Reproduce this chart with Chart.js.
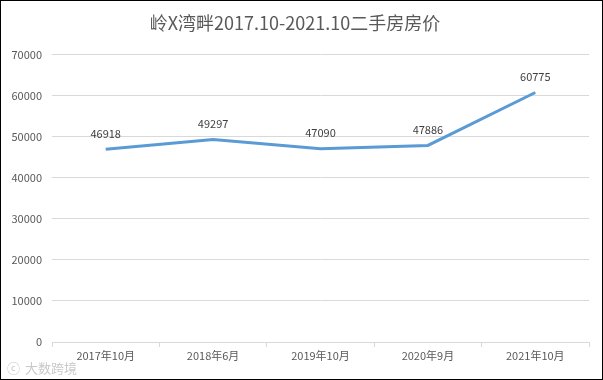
<!DOCTYPE html>
<html>
<head>
<meta charset="utf-8">
<script src="https://cdn.jsdelivr.net/npm/chart.js@4/dist/chart.umd.min.js"></script>
<style>
  html, body { margin: 0; padding: 0; background: #fff; }
  #wrap { width: 601px; height: 378px; border: 1px solid #000; position: relative; }
</style>
</head>
<body>
<div id="wrap"><canvas id="priceChart" width="601" height="378"></canvas></div>
<script>
// Chart data
const months = ['2017年10月', '2018年6月', '2019年10月', '2020年9月', '2021年10月']
const prices = [46918, 49297, 47090, 47886, 60775]
const yTicks = [0, 10000, 20000, 30000, 40000, 50000, 60000, 70000]
const chartTitle = '岭X湾畔2017.10-2021.10二手房房价'
const watermark = '大数跨境'

const cjkFont = '"Noto Sans CJK SC", "Noto Sans", sans-serif'

// labels drawn above each point
const pointLabels = {
    id: 'pointLabels',
    afterDatasetsDraw(chart) {
        const ctx = chart.ctx
        const meta = chart.getDatasetMeta(0)
        ctx.save()
        ctx.font = '11px ' + cjkFont
        ctx.fillStyle = '#404040'
        ctx.textAlign = 'center'
        ctx.textBaseline = 'middle'
        meta.data.forEach((pt, i) => {
            ctx.fillText(String(prices[i]), pt.x, pt.y - 16)
        })
        ctx.restore()
    }
}

// faint watermark in the corner
const cornerMark = {
    id: 'cornerMark',
    afterDraw(chart) {
        const ctx = chart.ctx
        ctx.save()
        ctx.font = '13px ' + cjkFont
        ctx.fillStyle = 'rgba(190,190,190,0.85)'
        ctx.textBaseline = 'middle'
        ctx.fillText('ⓒ', 6, 367)
        ctx.fillText(watermark, 24, 367)
        ctx.restore()
    }
}

const config = {
    type: 'line',
    data: {
        labels: months,
        datasets: [{
            label: '二手房房价',
            data: prices,
            borderColor: '#5B9BD5',
            backgroundColor: '#5B9BD5',
            borderWidth: 3,
            pointRadius: 0,
            tension: 0
        }]
    },
    options: {
        responsive: false,
        animation: false,
        layout: { padding: { left: 0, right: 13, top: 0, bottom: 0 } },
        scales: {
            x: {
                offset: true,
                grid: {
                    offset: true,
                    drawOnChartArea: false,
                    drawTicks: true,
                    tickLength: 5,
                    color: '#d9d9d9'
                },
                border: { color: '#d9d9d9' },
                ticks: {
                    color: '#595959',
                    font: { size: 11, family: cjkFont },
                    maxRotation: 0,
                    padding: 2
                },
                afterFit(scale) { scale.height = 37 }
            },
            y: {
                min: 0,
                max: 70000,
                afterBuildTicks(scale) { scale.ticks = yTicks.map(v => ({ value: v })) },
                grid: { color: '#d9d9d9', drawTicks: false },
                border: { display: false },
                ticks: {
                    color: '#595959',
                    font: { size: 11, family: cjkFont },
                    padding: 10,
                    callback: v => String(v)
                },
                afterFit(scale) { scale.width = 51 }
            }
        },
        plugins: {
            legend: { display: false },
            tooltip: { enabled: false },
            title: {
                display: true,
                text: chartTitle,
                color: '#595959',
                font: { size: 18, weight: 'normal', family: cjkFont },
                padding: { top: 11, bottom: 21 }
            }
        }
    },
    plugins: [pointLabels, cornerMark]
}

const myChart = new Chart(document.getElementById('priceChart'), config)
</script>
</body>
</html>
